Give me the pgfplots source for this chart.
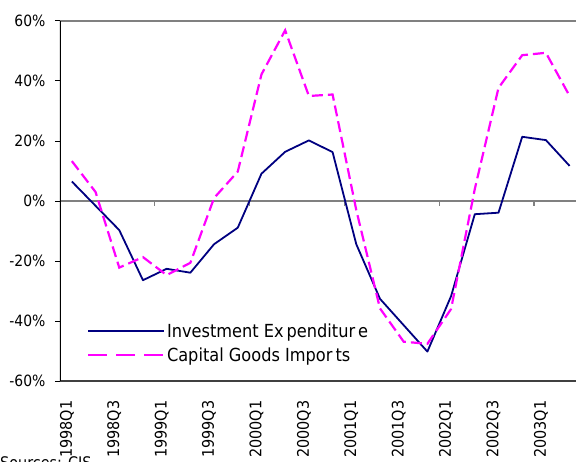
\documentclass[border=0pt]{standalone}
\usepackage{fontspec}
\setmainfont{DejaVu Sans Condensed}
\usepackage{pgfplots}
\pgfplotsset{compat=1.18}
\usetikzlibrary{calc}
\definecolor{navyline}{RGB}{0,0,128}
\definecolor{magline}{RGB}{255,0,255}
\definecolor{axgray}{RGB}{128,128,128}
\begin{document}
\begin{tikzpicture}
\begin{axis}[name=ax, scale only axis, width=516bp, height=360bp,
  xmin=-0.5, xmax=21.27, ymin=-60, ymax=60,
  axis line style={draw=none},
  ytick={-60,-40,-20,0,20,40,60},
  yticklabels={-60\%,-40\%,-20\%,0\%,20\%,40\%,60\%},
  xtick={0,2,4,6,8,10,12,14,16,18,20},
  xticklabels={1998Q1,1998Q3,1999Q1,1999Q3,2000Q1,2000Q3,2001Q1,2001Q3,2002Q1,2002Q3,2003Q1},
  x tick style={draw=none},
  y tick style={black, line width=1bp},
  tick align=outside, major tick length=5bp,
  yticklabel style={font=\fontsize{15.5bp}{18bp}\selectfont, anchor=east, xshift=-6bp},
  xticklabel style={font=\fontsize{16bp}{18bp}\selectfont, xshift=-5bp, yshift=-11bp, rotate=90, anchor=east},
  legend style={at={(0.052,0.165)}, anchor=north west, draw=none, fill=none,
    font=\fontsize{18bp}{20bp}\selectfont, row sep=4.5bp, inner sep=0pt},
  legend cell align=left,
]
\draw[axgray, line width=1.5bp] (rel axis cs:0,1) -- (rel axis cs:1,1);
\draw[black!75, line width=1.5bp] (rel axis cs:0,0) -- (rel axis cs:1,0);
\draw[axgray, line width=1.5bp] (axis cs:-0.5,0) -- (axis cs:21.27,0);
\draw[axgray, line width=1.2bp] (axis cs:3.5,0) -- ([yshift=-5bp]axis cs:3.5,0);
\draw[axgray, line width=1.2bp] (axis cs:7.5,0) -- ([yshift=-5bp]axis cs:7.5,0);
\draw[axgray, line width=1.2bp] (axis cs:11.5,0) -- ([yshift=-5bp]axis cs:11.5,0);
\draw[axgray, line width=1.2bp] (axis cs:15.5,0) -- ([yshift=-5bp]axis cs:15.5,0);
\draw[axgray, line width=1.2bp] (axis cs:19.5,0) -- ([yshift=-5bp]axis cs:19.5,0);
\draw[black, line width=2bp] (rel axis cs:0,0) -- (rel axis cs:0,1);
\addplot[navyline, line width=1.8bp, line join=round,
  legend image code/.code={\draw[navyline, line width=1.8bp] (0bp,0bp) -- (76bp,0bp);}]
  coordinates {(0,6.5) (1,-1.6) (2,-9.7) (3,-26.4) (4,-22.6) (5,-23.9) (6,-14.4) (7,-8.9)
  (8,9.1) (9,16.4) (10,20.2) (11,16.3) (12,-14.4) (13,-32.6) (14,-41.4) (15,-50.2)
  (16,-31.7) (17,-4.4) (18,-3.9) (19,21.4) (20,20.3) (21,11.7)};
\addlegendentry{Investment Ex\kern3bp penditur\kern3bp e}
\addplot[magline, line width=2.2bp, dash pattern=on 11bp off 5bp,
  legend image code/.code={\draw[magline, line width=2bp, dash pattern=on 19bp off 9bp] (0bp,0bp) -- (76bp,0bp);}]
  coordinates {(0,13.3) (1,3.0) (2,-22.2) (3,-18.7) (4,-24.7) (5,-20.6) (6,1.0) (7,9.8)
  (8,42.2) (9,56.9) (10,35.0) (11,35.5) (12,-3.0) (13,-35.8) (14,-46.9) (15,-47.6)
  (16,-36.0) (17,4.0) (18,37.7) (19,48.6) (20,49.4) (21,35.0)};
\addlegendentry{Capital Goods Impor\kern3bp ts}
\end{axis}
\node[anchor=north west, inner sep=0pt, font=\fontsize{16bp}{18bp}\selectfont] at ($(ax.south west)+(-60bp,-75bp)$) {Sources: CIS};
\pgfresetboundingbox
\path[use as bounding box] ($(ax.south west)+(-60bp,-80bp)$) rectangle ($(ax.north east)+(0bp,21bp)$);
\end{tikzpicture}
\end{document}
